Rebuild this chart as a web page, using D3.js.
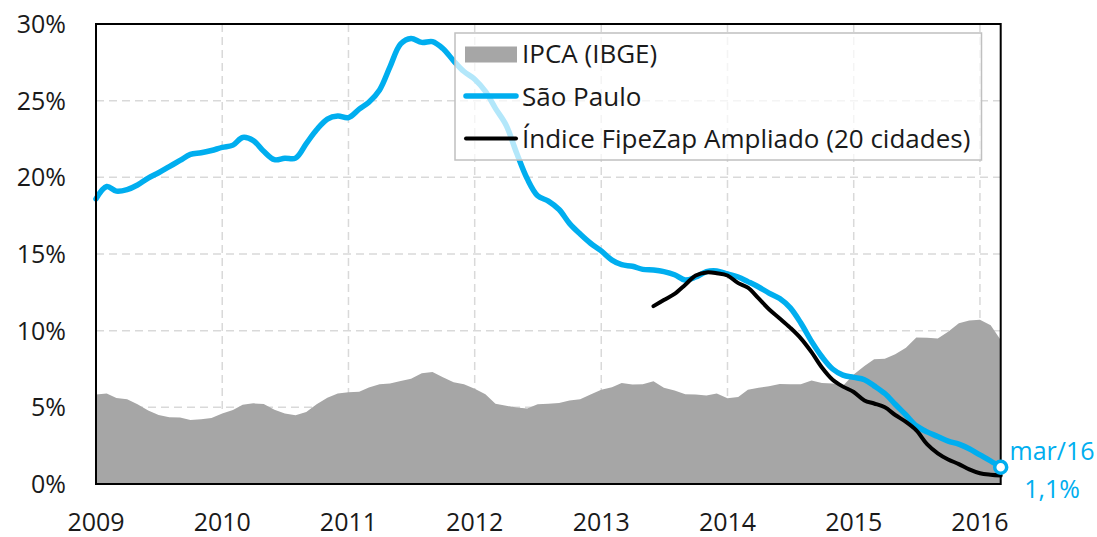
<!DOCTYPE html>
<html><head><meta charset="utf-8">
<script src="https://cdn.jsdelivr.net/npm/d3@7"></script>
<style>
html,body{margin:0;padding:0;background:#fff;}
svg{display:block;font-family:"Open Sans","Noto Sans",sans-serif;}
</style></head>
<body>
<svg id="chart" width="1097" height="537"></svg>
<script>
// ---- data ----
const startMonth = "2009-01";
const endMonth = "2016-03";
const yearTicks = [2009, 2010, 2011, 2012, 2013, 2014, 2015, 2016];
const yTicks = [0, 5, 10, 15, 20, 25, 30];

// IPCA 12-month (%), Jan 2009 .. Mar 2016
const ipca = [5.84,5.90,5.61,5.53,5.20,4.80,4.50,4.36,4.34,4.17,4.22,4.31,
  4.59,4.83,5.17,5.26,5.22,4.84,4.60,4.49,4.70,5.20,5.63,5.91,
  5.99,6.01,6.30,6.51,6.55,6.71,6.87,7.23,7.31,6.97,6.64,6.50,
  6.22,5.85,5.24,5.10,4.99,4.92,5.20,5.24,5.28,5.45,5.53,5.84,
  6.15,6.31,6.59,6.49,6.50,6.70,6.27,6.09,5.86,5.84,5.77,5.91,
  5.59,5.68,6.15,6.28,6.37,6.52,6.50,6.51,6.75,6.59,6.56,6.41,
  7.14,7.70,8.13,8.17,8.47,8.89,9.56,9.53,9.49,9.93,10.48,10.67,
  10.71,10.36,9.39];

// São Paulo (FipeZap) 12-month (%), Jan 2009 .. Mar 2016
const saoPaulo = [18.6,19.4,19.1,19.2,19.5,19.95,20.3,20.7,21.1,21.5,21.6,21.75,
  21.95,22.1,22.6,22.4,21.7,21.15,21.25,21.25,22.2,23.1,23.8,24.0,
  23.9,24.45,24.9,25.7,27.2,28.7,29.05,28.8,28.85,28.4,27.6,26.9,
  26.4,25.6,24.5,23.4,21.6,19.9,18.8,18.45,17.9,17.0,16.3,15.7,
  15.2,14.6,14.3,14.2,14.0,13.95,13.85,13.65,13.3,13.5,13.85,13.9,
  13.7,13.5,13.2,12.85,12.45,12.1,11.5,10.5,9.3,8.3,7.5,7.1,
  6.95,6.8,6.4,5.9,5.2,4.5,3.8,3.4,3.1,2.8,2.6,2.3,
  1.9,1.5,1.1];

// Índice FipeZap Ampliado (20 cidades), Jun 2013 .. Mar 2016
const fipeStart = "2013-06";
const fipeZap = [11.6,12.0,12.4,13.0,13.6,13.8,13.75,
  13.6,13.1,12.8,12.1,11.4,10.8,10.2,9.5,8.6,7.6,6.8,6.35,
  6.0,5.45,5.25,5.0,4.5,4.05,3.5,2.6,2.0,1.6,1.3,0.95,
  0.7,0.6,0.55];

const legendLabels = ["IPCA (IBGE)", "São Paulo", "Índice FipeZap Ampliado (20 cidades)"];
const endLabel = ["mar/16", "1,1%"];

// ---- setup ----
const parse = d3.timeParse("%Y-%m");
const months = d3.timeMonth.range(parse(startMonth), d3.timeMonth.offset(parse(endMonth), 1));
const fipeMonths = d3.timeMonth.range(parse(fipeStart), d3.timeMonth.offset(parse(endMonth), 1));

const L = 96, R = 1000.7, T = 24, B = 484;
const blue = "#00AEEF", gray = "#A6A6A6";

const x = d3.scaleTime().domain([parse(startMonth), parse(endMonth)]).range([L, R]);
const y = d3.scaleLinear().domain([0, 30]).range([B, T]);

const svg = d3.select("#chart");

// gridlines
svg.append("g").selectAll("line").data(yTicks.filter(v => v > 0 && v < 30)).join("line")
  .attr("x1", L).attr("x2", R).attr("y1", d => y(d)).attr("y2", d => y(d))
  .attr("stroke", "#d9d9d9").attr("stroke-width", 1.5).attr("stroke-dasharray", "8,5");
svg.append("g").selectAll("line").data(yearTicks.slice(1)).join("line")
  .attr("x1", d => x(new Date(d, 0, 1))).attr("x2", d => x(new Date(d, 0, 1)))
  .attr("y1", T).attr("y2", B)
  .attr("stroke", "#d9d9d9").attr("stroke-width", 1.5).attr("stroke-dasharray", "8,5");

// area IPCA
const area = d3.area().x((d, i) => x(months[i])).y0(B).y1(d => y(d));
svg.append("path").datum(ipca).attr("d", area).attr("fill", gray);

// São Paulo line
const lineSP = d3.line().x((d, i) => x(months[i])).y(d => y(d)).curve(d3.curveCatmullRom.alpha(0.5));
svg.append("path").datum(saoPaulo).attr("d", lineSP)
  .attr("fill", "none").attr("stroke", blue).attr("stroke-width", 5.5)
  .attr("stroke-linejoin", "round").attr("stroke-linecap", "round");

// FipeZap line
const lineF = d3.line().x((d, i) => x(fipeMonths[i])).y(d => y(d)).curve(d3.curveCatmullRom.alpha(0.5));
svg.append("path").datum(fipeZap).attr("d", lineF)
  .attr("fill", "none").attr("stroke", "#000").attr("stroke-width", 4)
  .attr("stroke-linejoin", "round").attr("stroke-linecap", "round");

// legend
const lg = svg.append("g");
lg.append("rect").attr("x", 455).attr("y", 33).attr("width", 526.5).attr("height", 127)
  .attr("fill", "#fff").attr("fill-opacity", 0.7).attr("stroke", "#c0c0c0").attr("stroke-width", 1.5);
lg.append("rect").attr("x", 465).attr("y", 46.5).attr("width", 52).attr("height", 16).attr("fill", gray);
lg.append("line").attr("x1", 466).attr("x2", 516).attr("y1", 96).attr("y2", 96)
  .attr("stroke", blue).attr("stroke-width", 5.5).attr("stroke-linecap", "round");
lg.append("line").attr("x1", 466).attr("x2", 516).attr("y1", 138.5).attr("y2", 138.5)
  .attr("stroke", "#000").attr("stroke-width", 4).attr("stroke-linecap", "round");
lg.selectAll("text").data(legendLabels).join("text")
  .attr("x", 522).attr("y", (d, i) => 63 + i * 42.5)
  .attr("font-size", 26).attr("fill", "#1a1a1a").text(d => d);

// frame
svg.append("rect").attr("x", L).attr("y", T).attr("width", R - L).attr("height", B - T)
  .attr("fill", "none").attr("stroke", "#000").attr("stroke-width", 2);

// axes labels
svg.append("g").selectAll("text").data(yTicks).join("text")
  .attr("x", 66).attr("y", d => y(d)).attr("dy", "0.36em").attr("text-anchor", "end")
  .attr("font-size", 25).attr("fill", "#1a1a1a").text(d => d + "%");
svg.append("g").selectAll("text").data(yearTicks).join("text")
  .attr("x", d => x(new Date(d, 0, 1))).attr("y", 531).attr("text-anchor", "middle")
  .attr("font-size", 25).attr("fill", "#1a1a1a").text(d => d);

// end marker
const lastD = months[months.length - 1], lastV = saoPaulo[saoPaulo.length - 1];
svg.append("circle").attr("cx", x(lastD)).attr("cy", y(lastV)).attr("r", 6)
  .attr("fill", "#fff").attr("stroke", blue).attr("stroke-width", 3.5);
svg.append("text").attr("x", 1052).attr("y", 460).attr("text-anchor", "middle")
  .attr("font-size", 25).attr("fill", blue).text(endLabel[0]);
svg.append("text").attr("x", 1052).attr("y", 498).attr("text-anchor", "middle")
  .attr("font-size", 25).attr("fill", blue).text(endLabel[1]);
</script>
</body></html>
